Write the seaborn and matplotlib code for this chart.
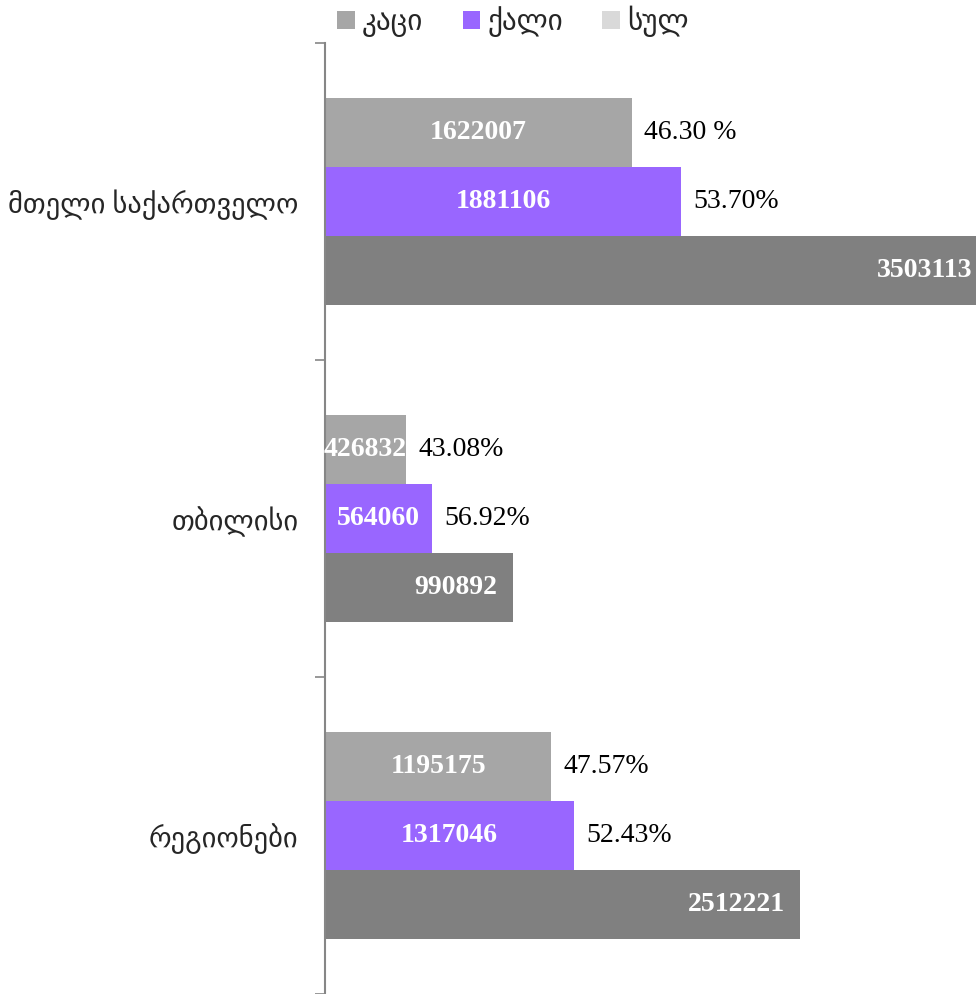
import pandas as pd
import matplotlib.pyplot as plt
import seaborn as sns
from matplotlib.patches import Patch

# data
regions = ['მთელი საქართველო', 'თბილისი', 'რეგიონები']
series = ['კაცი', 'ქალი', 'სულ']
men = [1622007, 426832, 1195175]
women = [1881106, 564060, 1317046]
total = [3503113, 990892, 2512221]
men_pct = ['46.30 %', '43.08%', '47.57%']
women_pct = ['53.70%', '56.92%', '52.43%']

bar_colors = ['#a6a6a6', '#9966ff', '#808080']
legend_colors = ['#a6a6a6', '#9966ff', '#d9d9d9']
fonts = ['Liberation Serif', 'DejaVu Sans']

rows = []
for i, r in enumerate(regions):
    rows.append((r, series[0], men[i]))
    rows.append((r, series[1], women[i]))
    rows.append((r, series[2], total[i]))
df = pd.DataFrame(rows, columns=['Region', 'Group', 'Count'])

sns.set_style('white')
plt.rcParams['font.family'] = fonts

fig = plt.figure(figsize=(9.76, 9.94), dpi=100)
# axis line sits at x=325px; the total bar runs off the right edge like the original
ax = fig.add_axes([325 / 976, 0.0, 0.698, 951 / 994])

sns.barplot(data=df, y='Region', x='Count', hue='Group', order=regions,
            hue_order=series, palette=bar_colors, orient='h', width=0.656,
            saturation=1, edgecolor='none', linewidth=0, legend=False, ax=ax)

ax.set_xlim(0, 3.6e6)
ax.set_ylim(2.5, -0.5)
ax.set_xlabel('')
ax.set_ylabel('')
ax.set_xticks([])

# ticks between groups, labels at the group centres
ax.set_yticks([-0.5, 0.5, 1.5, 2.5])
ax.set_yticklabels([])
ax.set_yticks(range(len(regions)), minor=True)
ax.set_yticklabels(regions, minor=True, fontsize=20.5)
ax.tick_params(axis='y', which='major', length=7, width=1.2, color='#868686', left=True)
ax.tick_params(axis='y', which='minor', length=0, pad=19)

for s in ['top', 'right', 'bottom']:
    ax.spines[s].set_visible(False)
ax.spines['left'].set_color('#868686')
ax.spines['left'].set_linewidth(1.5)

# value labels
for cont, pcts in zip(ax.containers[:2], [men_pct, women_pct]):
    ax.bar_label(cont, labels=[str(int(b.get_width())) for b in cont],
                 label_type='center', color='white', fontsize=20, fontweight='bold')
    ax.bar_label(cont, labels=pcts, padding=9, fontsize=20, color='black')

for b in ax.containers[2]:
    w = b.get_width()
    ax.annotate(str(int(w)), (w, b.get_y() + b.get_height() / 2),
                xytext=(-11, 0), textcoords='offset points', ha='right', va='center',
                color='white', fontsize=20, fontweight='bold')

handles = [Patch(facecolor=c, edgecolor='none') for c in legend_colors]
fig.legend(handles, series, loc='upper left', bbox_to_anchor=(337 / 976, 1 - 6 / 994),
           ncol=3, frameon=False, fontsize=21, handlelength=0.6, handleheight=0.6,
           handletextpad=0.25, columnspacing=1.35, borderpad=0, borderaxespad=0)

fig.savefig('out.png', dpi=100)
